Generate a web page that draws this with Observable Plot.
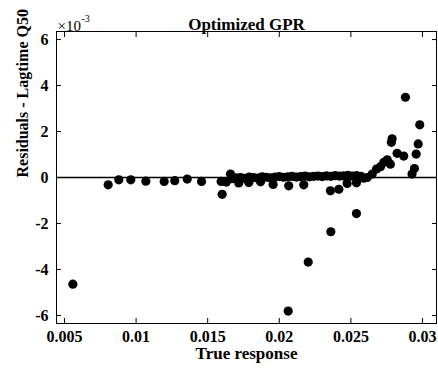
<!DOCTYPE html>
<html><head><meta charset="utf-8">
<script src="https://cdn.jsdelivr.net/npm/d3@7"></script>
<script src="https://cdn.jsdelivr.net/npm/@observablehq/plot@0.6"></script>
<style>body{margin:0;background:#fff}</style>
</head><body><div id="chart"></div>
<script>
// True response (x) and residuals (in units of 1e-3)
const trueResponse = [
  0.00558, 0.00805, 0.00879, 0.00963, 0.01068, 0.01196, 0.01270, 0.01357, 0.01457, 0.01594,
  0.01601, 0.01659, 0.01630, 0.01717, 0.01787, 0.01869, 0.01957, 0.02066, 0.02062, 0.02171,
  0.02202, 0.02357, 0.02360, 0.02416, 0.02474, 0.02539, 0.02539, 0.02590, 0.02614, 0.02649,
  0.02679, 0.02707, 0.02730, 0.02754, 0.02776, 0.02788, 0.02783, 0.02823, 0.02869, 0.02881,
  0.02927, 0.02944, 0.02956, 0.02970, 0.02981,
  0.01670, 0.01700, 0.01730, 0.01760, 0.01790, 0.01820, 0.01850, 0.01880, 0.01910, 0.01940,
  0.01970, 0.02000, 0.02030, 0.02060, 0.02090, 0.02120, 0.02150, 0.02180, 0.02210, 0.02240,
  0.02270, 0.02300, 0.02330, 0.02360, 0.02390, 0.02420, 0.02450, 0.02480, 0.02510, 0.02540,
  0.02570
];
const residualsE3 = [
  -4.64, -0.32, -0.10, -0.10, -0.16, -0.17, -0.14, -0.07, -0.17, -0.17,
  -0.73, 0.15, -0.20, -0.24, -0.22, -0.19, -0.30, -0.36, -5.81, -0.32,
  -3.68, -0.58, -2.36, -0.51, -0.26, -0.23, -1.57, -0.03, 0.00, 0.15,
  0.37, 0.47, 0.66, 0.77, 0.58, 1.68, 1.53, 1.05, 0.93, 3.49,
  0.15, 0.39, 1.02, 1.46, 2.29,
  -0.05, -0.02, 0.00, -0.04, 0.02, 0.00, -0.03, 0.03, 0.01, -0.02,
  0.02, 0.04, 0.01, 0.03, 0.05, 0.02, 0.04, 0.06, 0.03, 0.05,
  0.06, 0.04, 0.07, 0.05, 0.08, 0.06, 0.07, 0.09, 0.06, 0.08,
  0.05
];
const xTicks = [0.005, 0.01, 0.015, 0.02, 0.025, 0.03];
const xTickLabels = ["0.005", "0.01", "0.015", "0.02", "0.025", "0.03"];
const yTicks = [-6, -4, -2, 0, 2, 4, 6];
const yTickLabels = ["-6", "-4", "-2", "0", "2", "4", "6"];
const titleText = "Optimized GPR";
const xLabel = "True response";
const yLabel = "Residuals - Lagtime Q50";

const data = trueResponse.map((x, i) => ({x, y: residualsE3[i]}));
const serif = "'Liberation Serif', 'Times New Roman', serif";

const chart = Plot.plot({
  width: 438, height: 369,
  marginLeft: 56, marginRight: 2, marginTop: 31, marginBottom: 46,
  style: {fontFamily: serif, fontWeight: "bold", fontSize: "16px", background: "#fff", color: "#000"},
  x: {domain: [0.00444, 0.03098]},
  y: {domain: [-6.35, 6.35]},
  marks: [
    Plot.ruleY([0], {stroke: "#000", strokeWidth: 1.6}),
    Plot.dot(data, {x: "x", y: "y", r: 4.6, fill: "#000", stroke: "none"}),
    Plot.frame({stroke: "#000", strokeWidth: 1}),
    Plot.axisX({anchor: "bottom", ticks: xTicks, tickSize: -5, tickPadding: 12,
      tickFormat: d => xTickLabels[xTicks.indexOf(d)], label: null, fontSize: 16}),
    Plot.axisX({anchor: "top", ticks: xTicks, tickSize: -5, tickFormat: () => "", label: null}),
    Plot.axisY({anchor: "left", ticks: yTicks, tickSize: -5, tickPadding: 13,
      tickFormat: d => yTickLabels[yTicks.indexOf(d)], label: null, fontSize: 16}),
    Plot.axisY({anchor: "right", ticks: yTicks, tickSize: -5, tickFormat: () => "", label: null}),
    Plot.text([titleText], {frameAnchor: "top", dy: -14, fontSize: 17, fontWeight: "bold"}),
    Plot.text([xLabel], {frameAnchor: "bottom", dy: 35, fontSize: 17, fontWeight: "bold"}),
    Plot.text([yLabel], {frameAnchor: "left", dx: -34, rotate: -90, fontSize: 16, fontWeight: "bold"}),
    Plot.text(["×10"], {frameAnchor: "top-left", textAnchor: "start", dx: 1, dy: -11, fontSize: 15, fontWeight: "normal"}),
    Plot.text(["-3"], {frameAnchor: "top-left", textAnchor: "start", dx: 25, dy: -17, fontSize: 10, fontWeight: "normal"})
  ]
});
document.getElementById("chart").appendChild(chart);
</script>
</body></html>
